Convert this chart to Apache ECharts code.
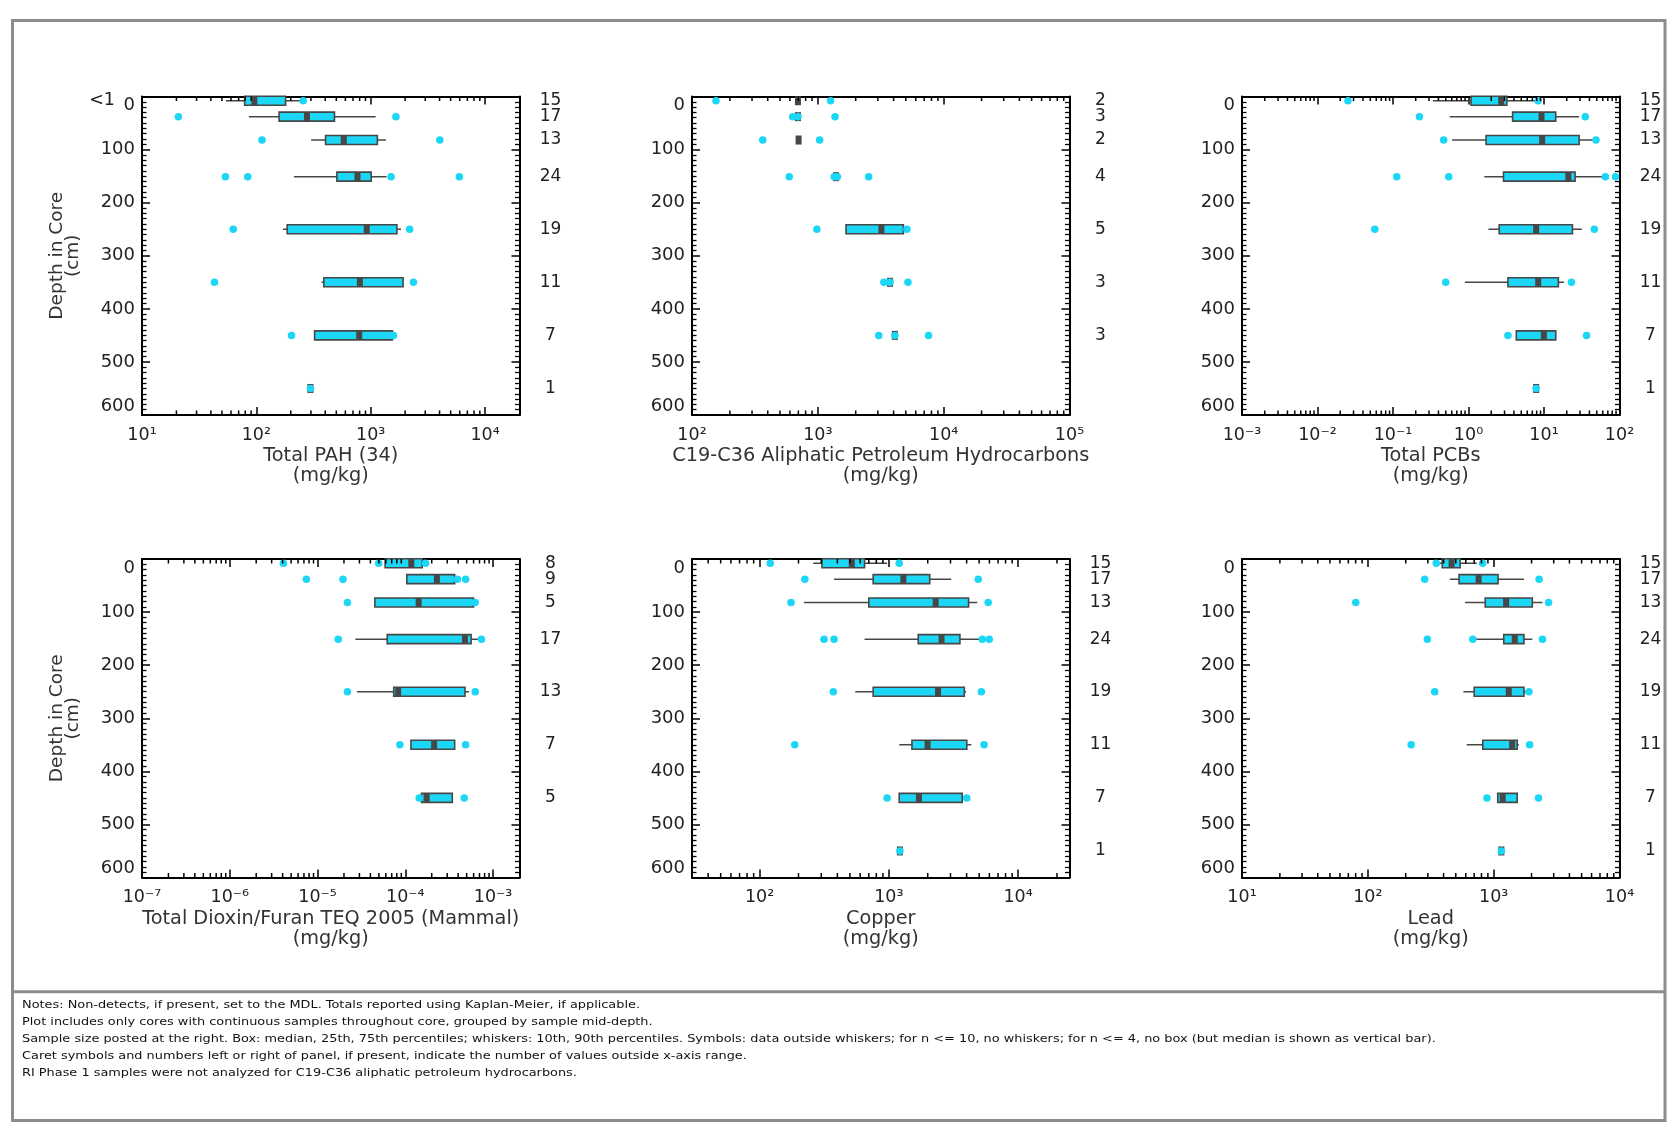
<!DOCTYPE html>
<html><head><meta charset="utf-8">
<script src="https://cdn.jsdelivr.net/npm/echarts@6/dist/echarts.min.js"></script>
<style>html,body{margin:0;padding:0;background:#fff}#c{width:1669px;height:1126px}</style>
</head><body><div id="c"></div>
<script>
// ---------------- DATA ----------------
// mid-depth of each depth group (cm)
const depths = [8, 38, 82, 151, 250, 350, 450, 550];
const logMinorMultipliers = [2, 3, 4, 5, 6, 7, 8, 9];

// stats per depth group: [10th, 25th, median, 75th, 90th]; null = not drawn
const pahCounts = [15, 17, 13, 24, 19, 11, 7, 1];
const pahStats = [
  [54, 79, 96, 180, 245],
  [86, 158, 277, 482, 1104],
  [301, 403, 581, 1143, 1358],
  [213, 506, 766, 1009, 1377],
  [171, 186, 923, 1694, 1841],
  [371, 389, 804, 1918, null],
  [null, 323, 793, 1549, null],
  [null, null, 297, null, null]
];
const pahPoints = [[257, 0], [20.8, 1], [1660, 1], [112, 2], [4018, 2], [53.6, 3], [84, 3], [1507, 3], [5957, 3],
  [62.8, 4], [2188, 4], [43, 5], [2361, 5], [203, 6], [1581, 6], [297, 7]];
const pahCarets = [['<1', 0]];

const tphCounts = [2, 3, 2, 4, 5, 3, 3];
const tphStats = [
  [null, null, 695, null, null],
  [null, null, 695, null, null],
  [null, null, 703, null, null],
  [null, null, 1396, null, null],
  [null, 1675, 3199, 4786, null],
  [null, null, 3750, null, null],
  [null, null, 4090, null, null]
];
const tphPoints = [[155, 0], [1262, 0], [631, 1], [695, 1], [1370, 1], [365, 2], [1033, 2],
  [593, 3], [1350, 3], [1430, 3], [2535, 3], [982, 4], [5103, 4], [3350, 5], [3750, 5], [5200, 5],
  [3050, 6], [4090, 6], [7590, 6]];

const pcbCounts = [15, 17, 13, 24, 19, 11, 7, 1];
const pcbStats = [
  [0.338, 1.08, 2.71, 3.22, 7.7],
  [0.564, 3.84, 9.27, 14.3, 29.2],
  [0.607, 1.71, 9.46, 29.2, 44.1],
  [1.62, 2.91, 21.0, 25.8, 63],
  [1.84, 2.55, 7.87, 23.8, 31.7],
  [0.895, 3.33, 8.37, 15.5, 18.4],
  [null, 4.3, 9.96, 14.3, null],
  [null, null, 7.87, null, null]
];
const pcbPoints = [[0.0253, 0], [8.36, 0], [0.224, 1], [35.2, 1], [0.469, 2], [48.8, 2],
  [0.112, 3], [0.547, 3], [65, 3], [88.5, 3], [0.0574, 4], [46.4, 4], [0.499, 5], [23.1, 5],
  [3.33, 6], [36.6, 6], [7.87, 7]];

const dioxinCounts = [8, 9, 5, 17, 13, 7, 5];
const dioxinStats = [
  [null, 5.89e-5, 1.17e-4, 1.56e-4, null],
  [null, 1.04e-4, 2.29e-4, 3.65e-4, null],
  [null, 4.5e-5, 1.42e-4, 5.99e-4, null],
  [2.7e-5, 6.22e-5, 4.78e-4, 5.62e-4, 6.85e-4],
  [2.82e-5, 7.38e-5, 8.29e-5, 4.78e-4, 5.32e-4],
  [null, 1.16e-4, 2.13e-4, 3.65e-4, null],
  [null, 1.53e-4, 1.75e-4, 3.43e-4, null]
];
const dioxinPoints = [[4.08e-6, 0], [4.97e-5, 0], [1.70e-4, 0], [7.46e-6, 1], [1.95e-5, 1], [3.92e-4, 1], [4.86e-4, 1],
  [2.19e-5, 2], [6.26e-4, 2], [1.72e-5, 3], [7.36e-4, 3], [2.19e-5, 4], [6.26e-4, 4],
  [8.67e-5, 5], [4.86e-4, 5], [1.44e-4, 6], [4.69e-4, 6]];

const copperCounts = [15, 17, 13, 24, 19, 11, 7, 1];
const copperStats = [
  [260, 304, 517, 649, 970],
  [377, 757, 1296, 2072, 3040],
  [220, 700, 2303, 4140, 4830],
  [649, 1689, 2557, 3548, 5130],
  [550, 757, 2404, 3838, 3960],
  [1203, 1510, 1995, 4010, 4345],
  [null, 1203, 1710, 3700, null],
  [null, null, 1218, null, null]
];
const copperPoints = [[121, 0], [1203, 0], [224, 1], [4920, 1], [175, 2], [5870, 2],
  [315, 3], [377, 3], [5290, 3], [5990, 3], [372, 4], [5200, 4], [187, 5], [5458, 5],
  [970, 6], [4010, 6], [1218, 7]];

const leadCounts = [15, 17, 13, 24, 19, 11, 7, 1];
const leadStats = [
  [363, 390, 463, 541, 735],
  [449, 531, 759, 1084, 1741],
  [593, 857, 1256, 2028, 2443],
  [713, 1203, 1472, 1741, 2029],
  [574, 700, 1318, 1741, 1850],
  [611, 820, 1403, 1538, 1586],
  [null, 1077, 1180, 1538, null],
  [null, null, 1151, null, null]
];
const leadPoints = [[350, 0], [817, 0], [283, 1], [2296, 1], [80.2, 2], [2730, 2],
  [297, 3], [682, 3], [2443, 3], [340, 4], [1908, 4], [221, 5], [1932, 5],
  [885, 6], [2271, 6], [1151, 7]];

const noteLines = [
  'Notes: Non-detects, if present, set to the MDL. Totals reported using Kaplan-Meier, if applicable.',
  'Plot includes only cores with continuous samples throughout core, grouped by sample mid-depth.',
  'Sample size posted at the right. Box: median, 25th, 75th percentiles; whiskers: 10th, 90th percentiles. Symbols: data outside whiskers; for n <= 10, no whiskers; for n <= 4, no box (but median is shown as vertical bar).',
  'Caret symbols and numbers left or right of panel, if present, indicate the number of values outside x-axis range.',
  'RI Phase 1 samples were not analyzed for C19-C36 aliphatic petroleum hydrocarbons.'
];

const panels = [
  {name: 'Total PAH (34)\n(mg/kg)', min: 10, max: 20000, stats: pahStats, points: pahPoints, counts: pahCounts, carets: pahCarets, depthTitle: true},
  {name: 'C19-C36 Aliphatic Petroleum Hydrocarbons\n(mg/kg)', min: 100, max: 100000, stats: tphStats, points: tphPoints, counts: tphCounts, carets: []},
  {name: 'Total PCBs\n(mg/kg)', min: 0.001, max: 100, stats: pcbStats, points: pcbPoints, counts: pcbCounts, carets: []},
  {name: 'Total Dioxin/Furan TEQ 2005 (Mammal)\n(mg/kg)', min: 1e-7, max: 2e-3, stats: dioxinStats, points: dioxinPoints, counts: dioxinCounts, carets: [], depthTitle: true},
  {name: 'Copper\n(mg/kg)', min: 30, max: 25000, stats: copperStats, points: copperPoints, counts: copperCounts, carets: []},
  {name: 'Lead\n(mg/kg)', min: 10, max: 10000, stats: leadStats, points: leadPoints, counts: leadCounts, carets: []}
];

// ---------------- STYLE / LAYOUT ----------------
const FONT = 'DejaVu Sans';
const CYAN = '#1CD6F6';
const DARK = '#474747';
const TXT = '#222';
const gridLefts = [142, 692, 1242];
const gridTops = [96.5, 559];
const gridW = 377.5, gridH = 318.5;
const BOX_H = 9;

const SUP = {'-': '\u207B', '0': '\u2070', '1': '\u00B9', '2': '\u00B2', '3': '\u00B3', '4': '\u2074', '5': '\u2075', '6': '\u2076', '7': '\u2077', '8': '\u2078', '9': '\u2079'};
function logLabel(v) {
  const l = Math.log10(v), e = Math.round(l);
  if (Math.abs(l - e) > 1e-6) return '';
  return '10' + String(e).split('').map(c => SUP[c]).join('');
}

function boxRenderer(p) {
  return function (params, api) {
    const i = params.dataIndex;
    const s = p.stats[i];
    const d = depths[i];
    const X = v => api.coord([v, d])[0];
    const yc = api.coord([s[2], d])[1];
    const kids = [];
    if (s[0] != null || s[4] != null) {
      const lo = s[0] != null ? s[0] : s[1];
      const hi = s[4] != null ? s[4] : s[3];
      kids.push({type: 'line', shape: {x1: X(lo), y1: yc, x2: X(hi), y2: yc}, style: {stroke: DARK, lineWidth: 1.5}});
    }
    if (s[1] != null && s[3] != null) {
      const x1 = X(s[1]), x2 = X(s[3]);
      kids.push({type: 'rect', shape: {x: x1, y: yc - BOX_H / 2, width: x2 - x1, height: BOX_H}, style: {fill: CYAN, stroke: DARK, lineWidth: 1.6}});
    }
    const xm = X(s[2]);
    kids.push({type: 'rect', shape: {x: xm - 3, y: yc - BOX_H / 2, width: 6, height: BOX_H}, style: {fill: DARK}});
    const cs = params.coordSys;
    kids.push({type: 'text', x: cs.x + cs.width + 31, y: yc,
      style: {text: String(p.counts[i]), align: 'center', verticalAlign: 'middle', fontFamily: FONT, fontSize: 17, fill: TXT}});
    p.carets.forEach(c => {
      if (c[1] === i) kids.push({type: 'text', x: cs.x - 27, y: yc,
        style: {text: c[0], align: 'right', verticalAlign: 'middle', fontFamily: FONT, fontSize: 17.5, fill: TXT}});
    });
    return {type: 'group', children: kids};
  };
}

function minorTickRenderer(p) {
  return function (params, api) {
    const cs = params.coordSys;
    const top = cs.y, bot = cs.y + cs.height;
    const kids = [];
    const k0 = Math.floor(Math.log10(p.min)), k1 = Math.ceil(Math.log10(p.max));
    for (let k = k0; k <= k1; k++) {
      logMinorMultipliers.forEach(m => {
        const v = m * Math.pow(10, k);
        if (v <= p.min * 1.0001 || v >= p.max * 0.9999) return;
        const x = api.coord([v, 0])[0];
        kids.push({type: 'line', shape: {x1: x, y1: bot, x2: x, y2: bot - 4.5}, style: {stroke: '#000', lineWidth: 1.5}});
        kids.push({type: 'line', shape: {x1: x, y1: top, x2: x, y2: top + 4.5}, style: {stroke: '#000', lineWidth: 1.5}});
      });
    }
    return {type: 'group', children: kids};
  };
}

const grids = [], xAxes = [], yAxes = [], series = [];
panels.forEach((p, i) => {
  const col = i % 3, row = Math.floor(i / 3);
  grids.push({left: gridLefts[col], top: gridTops[row], width: gridW, height: gridH});
  const axLine = {show: true, onZero: false, lineStyle: {color: '#000', width: 2}};
  const tick = {show: true, inside: true, length: 8, lineStyle: {color: '#000', width: 1.5}};
  xAxes.push({
    type: 'log', logBase: 10, gridIndex: i, min: p.min, max: p.max, position: 'bottom',
    axisLine: axLine, axisTick: tick, splitLine: {show: false},
    axisLabel: {formatter: logLabel, fontFamily: FONT, fontSize: 17.5, color: TXT, margin: 11},
    name: p.name, nameLocation: 'middle', nameGap: 31,
    nameTextStyle: {fontFamily: FONT, fontSize: 19.3, color: '#333', lineHeight: 20}
  });
  xAxes.push({
    type: 'log', logBase: 10, gridIndex: i, min: p.min, max: p.max, position: 'top',
    axisLine: axLine, axisTick: tick, splitLine: {show: false}, axisLabel: {show: false}
  });
  const yBase = {
    type: 'value', gridIndex: i, inverse: true, min: 0, max: 600, interval: 100,
    axisLine: axLine, axisTick: tick, splitLine: {show: false},
    minorTick: {show: true, splitNumber: 10, length: 4.5, lineStyle: {color: '#000', width: 1.3}},
    minorSplitLine: {show: false}
  };
  yAxes.push(Object.assign({}, yBase, {
    position: 'left',
    axisLabel: {fontFamily: FONT, fontSize: 18, color: TXT, margin: 7,
      verticalAlignMinLabel: 'top', verticalAlignMaxLabel: 'bottom'},
    name: p.depthTitle ? 'Depth in Core\n(cm)' : '', nameLocation: 'middle', nameGap: 61, nameRotate: 90,
    nameTextStyle: {fontFamily: FONT, fontSize: 18.5, color: '#333', lineHeight: 16}
  }));
  yAxes.push(Object.assign({}, yBase, {position: 'right', axisLabel: {show: false}}));

  series.push({
    type: 'custom', xAxisIndex: 2 * i, yAxisIndex: 2 * i, clip: false, z: 2,
    renderItem: boxRenderer(p),
    data: p.stats.map((s, r) => [s[2], depths[r]]),
    encode: {x: 0, y: 1}, silent: true
  });
  series.push({
    type: 'scatter', xAxisIndex: 2 * i, yAxisIndex: 2 * i, z: 3, silent: true,
    symbol: 'circle', symbolSize: 7.5, itemStyle: {color: CYAN, opacity: 1},
    data: p.points.map(pt => [pt[0], depths[pt[1]]])
  });
  series.push({
    type: 'custom', xAxisIndex: 2 * i, yAxisIndex: 2 * i, clip: false, z: 4, silent: true,
    renderItem: minorTickRenderer(p), data: [[p.min, 0]], encode: {x: 0, y: 1}
  });
});

const chart = echarts.init(document.getElementById('c'), null, {renderer: 'canvas'});
chart.setOption({
  animation: false,
  backgroundColor: '#fff',
  grid: grids, xAxis: xAxes, yAxis: yAxes, series: series,
  graphic: [
    {type: 'rect', silent: true, shape: {x: 12.5, y: 20.5, width: 1652.5, height: 1100},
      style: {fill: 'none', stroke: '#8c8c8c', lineWidth: 3}},
    {type: 'line', silent: true, shape: {x1: 12.5, y1: 991.7, x2: 1665, y2: 991.7},
      style: {stroke: '#8c8c8c', lineWidth: 3}},
    {type: 'text', silent: true, x: 22, y: 997, scaleX: 1.14,
      style: {text: noteLines.join('\n'), fontFamily: FONT, fontSize: 11.3, lineHeight: 16.8, fill: '#111', align: 'left', verticalAlign: 'top'}}
  ]
});
</script></body></html>
